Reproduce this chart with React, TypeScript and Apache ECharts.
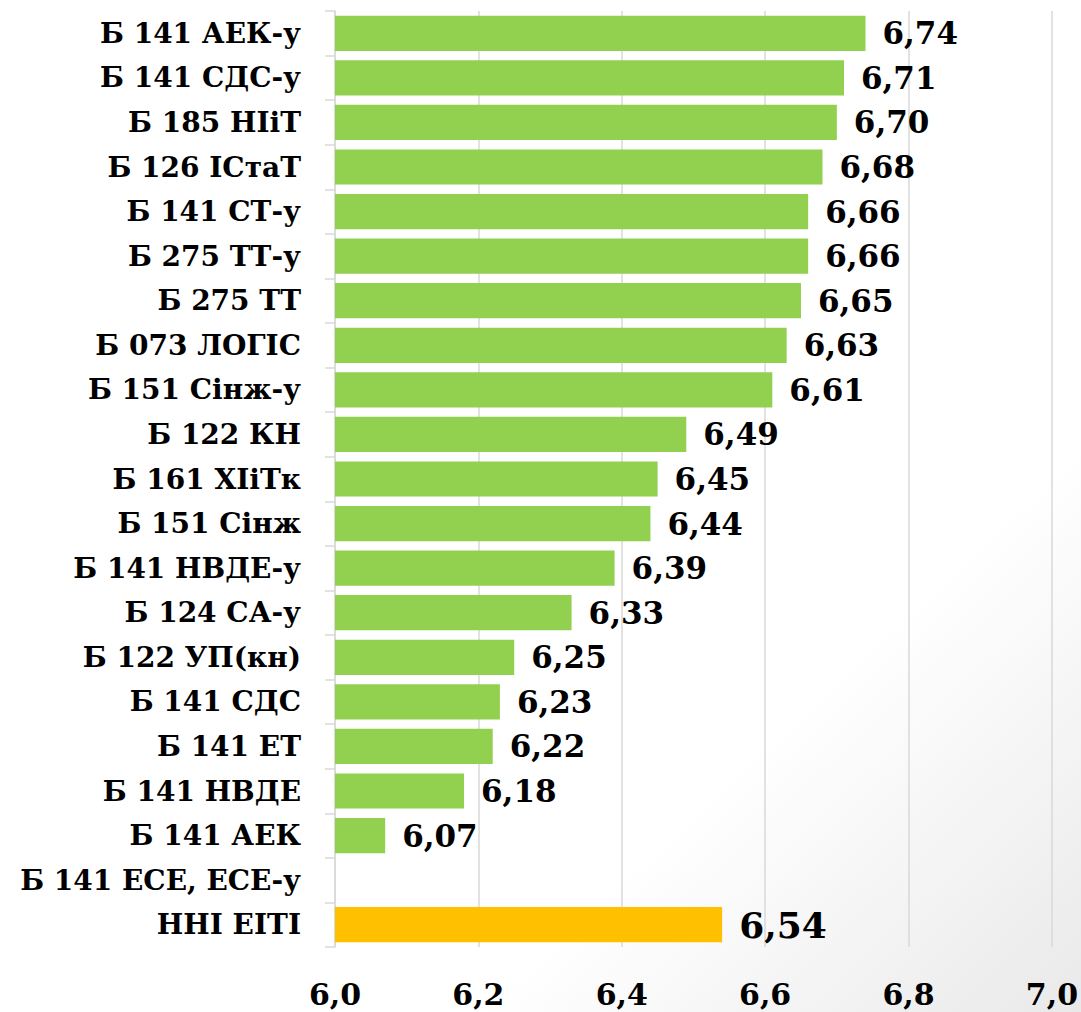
import React, { useEffect, useRef } from "react";
import * as echarts from "echarts";

const categories = [
  "Б 141 АЕК-у",
  "Б 141 СДС-у",
  "Б 185 НІіТ",
  "Б 126 ІСтаТ",
  "Б 141 СТ-у",
  "Б 275 ТТ-у",
  "Б 275 ТТ",
  "Б 073 ЛОГІС",
  "Б 151 Сінж-у",
  "Б 122 КН",
  "Б 161 ХІіТк",
  "Б 151 Сінж",
  "Б 141 НВДЕ-у",
  "Б 124 СА-у",
  "Б 122 УП(кн)",
  "Б 141 СДС",
  "Б 141 ЕТ",
  "Б 141 НВДЕ",
  "Б 141 АЕК",
  "Б 141 ЕСЕ, ЕСЕ-у",
  "ННІ ЕІТІ",
];

const values: (number | null)[] = [
  6.74, 6.71, 6.7, 6.68, 6.66, 6.66, 6.65, 6.63, 6.61, 6.49, 6.45, 6.44, 6.39,
  6.33, 6.25, 6.23, 6.22, 6.18, 6.07, null, 6.54,
];

const highlightCategory = "ННІ ЕІТІ";

const FONT = "'DejaVu Serif', serif";

export default function App() {
  const ref = useRef<HTMLDivElement>(null);

  useEffect(() => {
    if (!ref.current) return;
    const chart = echarts.init(ref.current, undefined, { renderer: "svg" });
    const data = values.map((v, i) => {
      const hl = categories[i] === highlightCategory;
      return {
        value: v,
        itemStyle: { color: hl ? "#FFC000" : "#92D050" },
        label: hl ? { fontSize: 36, padding: [8, 0, 0, 0] } : undefined,
      };
    });
    chart.setOption({
      animation: false,
      backgroundColor: {
        type: "linear",
        x: 0,
        y: 0,
        x2: 1,
        y2: 1,
        colorStops: [
          { offset: 0, color: "#ffffff" },
          { offset: 0.72, color: "#ffffff" },
          { offset: 1, color: "#e9e9e9" },
        ],
      },
      grid: { left: 335, right: 29, top: 11, bottom: 65, containLabel: false },
      xAxis: {
        type: "value",
        min: 6.0,
        max: 7.0,
        interval: 0.2,
        axisLine: { show: false },
        axisTick: { show: false },
        splitLine: { show: true, lineStyle: { color: "#d9d9d9", width: 1.5 } },
        axisLabel: {
          margin: 32,
          fontFamily: FONT,
          fontWeight: "bold",
          fontSize: 30,
          color: "#000",
          formatter: (v: number) => v.toFixed(1).replace(".", ","),
        },
      },
      yAxis: {
        type: "category",
        inverse: true,
        data: categories,
        axisLine: { show: true, lineStyle: { color: "#d9d9d9", width: 1.5 } },
        axisTick: { show: true, length: 10, lineStyle: { color: "#d9d9d9", width: 1.5 } },
        axisLabel: {
          margin: 34,
          fontFamily: FONT,
          fontWeight: "bold",
          fontSize: 28,
          color: "#000",
        },
      },
      series: [
        {
          type: "bar",
          data,
          barCategoryGap: "21%",
          label: {
            show: true,
            position: "right",
            distance: 17,
            padding: [5, 0, 0, 0],
            fontFamily: FONT,
            fontWeight: "bold",
            fontSize: 31,
            color: "#000",
            formatter: (p: any) =>
              p.value == null ? "" : Number(p.value).toFixed(2).replace(".", ","),
          },
        },
      ],
    });
    return () => chart.dispose();
  }, []);

  return (
    <div
      ref={ref}
      style={{ position: "fixed", left: 0, top: 0, width: 1081, height: 1012 }}
    />
  );
}
